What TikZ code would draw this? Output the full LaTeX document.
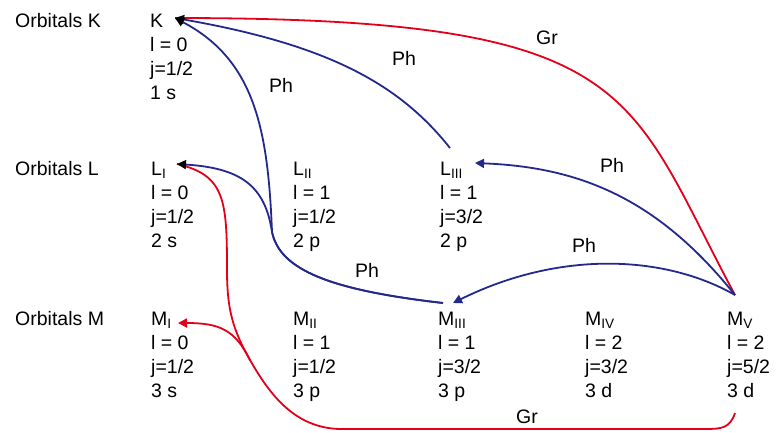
\documentclass[tikz,border=0pt]{standalone}
\usepackage{fontspec}
\setmainfont{Liberation Sans}
\usetikzlibrary{arrows.meta}
\definecolor{gred}{RGB}{226,0,26}
\definecolor{pblue}{RGB}{35,40,140}
\newcommand\orbital[7]{%
  \node[txt] (#1) at (#2,#3) {#4};
  \node[txt] (#1l) at (#2,#3+24.3) {l = #5};
  \node[txt] (#1j) at (#2,#3+48.6) {j=#6};
  \node[txt] (#1n) at (#2,#3+72.9) {#7};}
\begin{document}
\begin{tikzpicture}[x=1pt,y=-1pt,
  txt/.style={anchor=base west,inner sep=0pt,font=\fontsize{19.5}{23}\selectfont},
  lab/.style={inner sep=0pt,font=\fontsize{19.5}{23}\selectfont},
  ph/.style={draw=pblue,line width=1.8pt},
  gr/.style={draw=gred,line width=1.8pt},
  blackhead/.style={-{Triangle[length=9pt,width=9pt,color=black]}},
  bluehead/.style={-{Triangle[length=9pt,width=9pt]}},
  redhead/.style={-{Triangle[length=9pt,width=9pt]}}]
\useasboundingbox (0,0) rectangle (779,432);
% row labels
\node[txt] (rowK) at (15,27) {Orbitals K};
\node[txt] (rowL) at (15,175) {Orbitals L};
\node[txt] (rowM) at (15,325) {Orbitals M};
% orbitals
\orbital{K}{150}{27}{K}{0}{1/2}{1 s}
\orbital{LI}{151}{175}{L\textsubscript{I}}{0}{1/2}{2 s}
\orbital{LII}{293}{175}{L\textsubscript{II}}{1}{1/2}{2 p}
\orbital{LIII}{440}{175}{L\textsubscript{III}}{1}{3/2}{2 p}
\orbital{MI}{151}{325}{M\textsubscript{I}}{0}{1/2}{3 s}
\orbital{MII}{293}{325}{M\textsubscript{II}}{1}{1/2}{3 p}
\orbital{MIII}{438}{325}{M\textsubscript{III}}{1}{3/2}{3 p}
\orbital{MIV}{585}{325}{M\textsubscript{IV}}{2}{3/2}{3 d}
\orbital{MV}{727}{325}{M\textsubscript{V}}{2}{5/2}{3 d}
% connector end points
\coordinate (Ktip) at (175,18);
\coordinate (LItip) at (177,164);
\coordinate (LIIItip) at (475,163);
\coordinate (MItip) at (178,323);
\coordinate (MIIItip) at (453,303);
\coordinate (MIIIstart) at (443,303);
\coordinate (LIIIstart) at (450,148);
\coordinate (MVtop) at (735,295);
\coordinate (MVbot) at (735,413);
\coordinate (bjoin) at (272,232);
\coordinate (rjoin) at (250,360);
% red Gr curves
\draw[gr] (MVtop) .. controls (625,90) and (640,18) .. (Ktip);
\draw[gr] (MVbot) .. controls (730,428) and (722,429) .. (705,429) -- (340,429)
  .. controls (295,428) and (270,395) .. (rjoin)
  .. controls (233,330) and (227,310) .. (227,270)
  .. controls (227,200) and (225,175) .. (LItip);
\draw[gr,redhead] (rjoin) .. controls (235,330) and (220,323) .. (MItip);
% blue Ph curves
\draw[ph,blackhead] (LIIIstart) .. controls (400,85) and (330,45) .. (Ktip);
\draw[ph,blackhead] (MIIIstart) .. controls (330,290) and (280,270) .. (bjoin)
  .. controls (268,130) and (255,60) .. (Ktip);
\draw[ph,blackhead] (MIIIstart) .. controls (330,290) and (280,270) .. (bjoin)
  .. controls (265,185) and (240,168) .. (LItip);
\draw[ph,bluehead] (MVtop) .. controls (655,195) and (575,167) .. (LIIItip);
\draw[ph,bluehead] (MVtop) .. controls (665,255) and (560,250) .. (MIIItip);
% labels
\node[lab] (grtop) at (547,38) {Gr};
\node[lab] (ph1) at (404,58) {Ph};
\node[lab] (ph2) at (281,85) {Ph};
\node[lab] (ph3) at (612,165) {Ph};
\node[lab] (ph4) at (584,245) {Ph};
\node[lab] (ph5) at (367,270) {Ph};
\node[lab] (grbot) at (527,417) {Gr};
\end{tikzpicture}
\end{document}
